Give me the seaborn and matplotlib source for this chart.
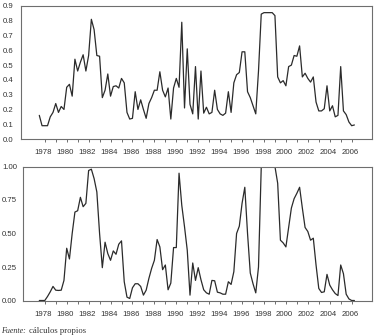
import numpy as np
import pandas as pd
import matplotlib
matplotlib.use("Agg")
import matplotlib.pyplot as plt
import seaborn as sns

# quarterly series, 1978Q1 onwards
start_year = 1978
top_vals = [0.16, 0.09, 0.09, 0.09, 0.15, 0.18, 0.24, 0.18, 0.22, 0.20,
            0.35, 0.37, 0.29, 0.54, 0.46, 0.52, 0.57, 0.46, 0.565, 0.81,
            0.74, 0.565, 0.56, 0.28, 0.33, 0.44, 0.29, 0.355, 0.36, 0.345,
            0.41, 0.38, 0.18, 0.135, 0.14, 0.32, 0.20, 0.265, 0.20, 0.14,
            0.24, 0.28, 0.33, 0.33, 0.455, 0.33, 0.285, 0.345, 0.135, 0.345,
            0.41, 0.35, 0.79, 0.21, 0.61, 0.235, 0.17,
            0.49, 0.135, 0.46, 0.175, 0.215, 0.17, 0.18, 0.33, 0.20, 0.17,
            0.16, 0.175, 0.32, 0.18, 0.38, 0.435, 0.45, 0.59, 0.59, 0.32,
            0.28, 0.225, 0.17, 0.46, 0.845, 0.855, 0.855, 0.855, 0.855, 0.835,
            0.42, 0.38, 0.395, 0.36, 0.49, 0.50, 0.565, 0.56, 0.63, 0.42,
            0.445, 0.41, 0.385, 0.42, 0.25, 0.19, 0.19, 0.205, 0.36, 0.19,
            0.225, 0.15, 0.16, 0.49, 0.19, 0.165, 0.115, 0.09, 0.095]

bottom_vals = [0, 0, 0, 0.03, 0.065, 0.105, 0.077, 0.075, 0.077, 0.15,
               0.39, 0.31, 0.50, 0.66, 0.67, 0.77, 0.70, 0.725, 0.97, 0.98,
               0.91, 0.81, 0.50, 0.245, 0.435, 0.35, 0.30, 0.37, 0.345, 0.42,
               0.445, 0.14, 0.025, 0.015, 0.095, 0.125, 0.125, 0.105, 0.04, 0.077,
               0.165, 0.24, 0.30, 0.455, 0.40, 0.23, 0.265, 0.08, 0.13, 0.395,
               0.395, 0.95, 0.71, 0.55, 0.375, 0.04, 0.28, 0.15, 0.245, 0.155,
               0.08, 0.057, 0.047, 0.15, 0.147, 0.062, 0.057, 0.047, 0.047, 0.14,
               0.12, 0.215, 0.50, 0.555, 0.725, 0.845, 0.50, 0.205, 0.125, 0.057,
               0.25, 0.995, 1.0, 1.0, 1.0, 1.0, 1.0, 0.875, 0.45, 0.43,
               0.40, 0.545, 0.69, 0.76, 0.80, 0.845, 0.69, 0.545, 0.515, 0.45,
               0.465, 0.265, 0.09, 0.06, 0.065, 0.195, 0.115, 0.08, 0.052, 0.037,
               0.265, 0.20, 0.047, 0.012, 0, 0]

label_years = list(range(1978, 2007, 2))
top_yticks = [0.0, 0.1, 0.2, 0.3, 0.4, 0.5, 0.6, 0.7, 0.8, 0.9]
bottom_yticks = [0.0, 0.25, 0.5, 0.75, 1.0]

t_top = start_year + np.arange(len(top_vals)) / 4
t_bot = start_year + np.arange(len(bottom_vals)) / 4

sns.set_style("white")
plt.rcParams["font.family"] = ["Liberation Sans Narrow", "Liberation Sans", "DejaVu Sans"]

W, H = 378, 336
fig = plt.figure(figsize=(W / 100, H / 100), dpi=100)
ax1 = fig.add_axes([20.7 / W, 1 - 139 / H, 351 / W, 133 / H])
ax2 = fig.add_axes([22.7 / W, 1 - 300.5 / H, 349 / W, 134 / H])

line_col = "#2b2b2b"
frame_col = "#6e6e6e"

sns.lineplot(x=t_top, y=top_vals, ax=ax1, color=line_col, lw=0.9)
sns.lineplot(x=t_bot, y=bottom_vals, ax=ax2, color=line_col, lw=0.9)

# year -> pixel: 10.96 px per year, 1978 at x = 39.3 px
px_per_year = 10.96
for ax, yt, fmt, left_px, ypad in [(ax1, top_yticks, "{:.1f}", 20.7, 2.4),
                                   (ax2, bottom_yticks, "{:.2f}", 22.7, 1.2)]:
    x0 = 1978 - (39.3 - left_px) / px_per_year
    x1 = 1978 + (371.7 - 39.3) / px_per_year
    ax.set_xlim(x0, x1)
    ax.set_ylim(yt[0], yt[-1])
    ax.set_yticks(yt, [fmt.format(v) for v in yt])
    for s in ax.spines.values():
        s.set_color(frame_col)
        s.set_linewidth(0.8)
    ax.tick_params(axis="y", direction="out", length=3, width=0.7,
                   color=frame_col, pad=ypad, labelsize=5.6, labelcolor="#333333",
                   labelfontfamily="Liberation Sans")
    # labels centred on the year, tall ticks at each year, short at half-years
    ax.set_xticks([y + 0.375 for y in label_years], [str(y) for y in label_years])
    ax.tick_params(axis="x", which="major", length=0, pad=7.5,
                   labelsize=5.6, labelcolor="#333333")
    ax.set_xticks(np.arange(1978, 2007, 1.0), minor=True)
    ax.tick_params(axis="x", which="minor", direction="out", length=3.5,
                   width=0.7, color=frame_col)
    sec = ax.secondary_xaxis("bottom")
    sec.set_xticks(np.arange(1978.5, 2007, 1.0), labels=[])
    sec.tick_params(axis="x", direction="out", length=2, width=0.7, color=frame_col)
    sec.spines["bottom"].set_visible(False)
    ax.set_xlabel("")
    ax.set_ylabel("")

src = fig.text(1.5 / W, 1 - 331 / H, "Fuente:", family="Liberation Serif",
               style="italic", fontsize=5.8, va="center", ha="left", color="#333333")
fig.canvas.draw()
ax2.annotate("cálculos propios", xy=(1, 0.5), xycoords=src, xytext=(2, 0),
             textcoords="offset points", family="Liberation Serif", fontsize=6.2,
             va="center", ha="left", color="#333333", annotation_clip=False)

fig.savefig("out.png", dpi=100)
